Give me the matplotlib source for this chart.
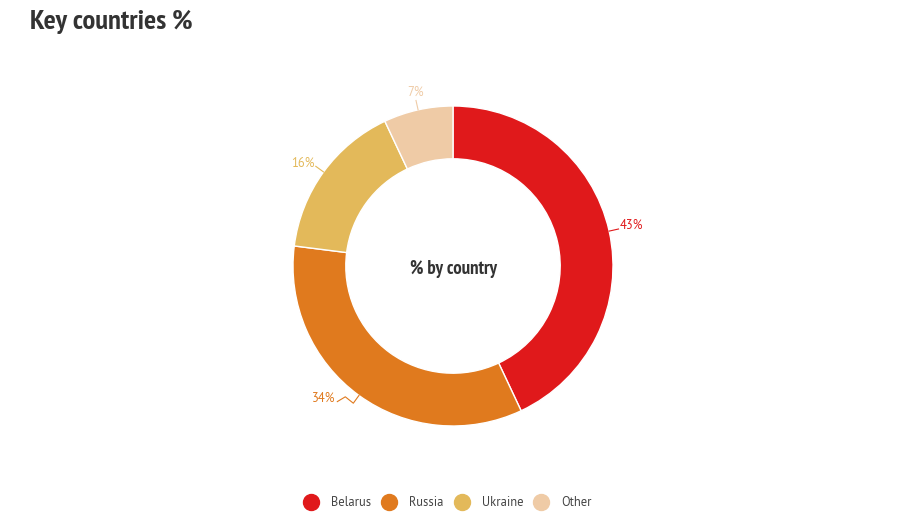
import numpy as np
import matplotlib.pyplot as plt
from matplotlib.lines import Line2D

countries = ["Belarus", "Russia", "Ukraine", "Other"]
shares = [43, 34, 16, 7]
colors = ["#E0191B", "#E07A1E", "#E3B95A", "#EFCBA6"]

narrow = ["PT Sans Narrow", "DejaVu Sans"]
regular = ["PT Sans", "DejaVu Sans"]

W, H = 906, 530
fig = plt.figure(figsize=(W / 100, H / 100), dpi=100)

# donut placed in pixel terms: center (453, 266), radius 160
cx, cy, r = 453, 266, 160
ax = fig.add_axes([(cx - r) / W, (H - cy - r) / H, 2 * r / W, 2 * r / H])
wedges, _ = ax.pie(
    shares,
    colors=colors,
    startangle=90,
    counterclock=False,
    radius=1.0,
    wedgeprops=dict(width=0.33, edgecolor="white", linewidth=1),
)
ax.set_xlim(-1, 1)
ax.set_ylim(-1, 1)
ax.set_aspect("equal")
ax.axis("off")

# percentage labels with short leader lines
for w, val, col in zip(wedges, shares, colors):
    ang = np.deg2rad((w.theta1 + w.theta2) / 2)
    c, s = np.cos(ang), np.sin(ang)
    xs = [c * 1.0, c * 1.06]
    ys = [s * 1.0, s * 1.06]
    if c < 0 and s < 0:
        # lower-left label gets a small kinked leader
        xs += [xs[-1] - 0.05, xs[-1] - 0.1]
        ys += [ys[-1] + 0.04, ys[-1] + 0.01]
    ax.plot(xs, ys, color=col, lw=0.8, clip_on=False)
    if abs(c) < 0.35:
        ax.text(xs[-1], ys[-1] + 0.01, f"{val}%", color=col, fontsize=9,
                ha="center", va="bottom", family=regular)
    else:
        ax.text(xs[-1] + (0.01 if c > 0 else -0.01), ys[-1] + 0.02, f"{val}%",
                color=col, fontsize=9, ha="left" if c > 0 else "right",
                va="center", family=regular)

ax.text(0, -0.02, "% by country", ha="center", va="center", fontsize=13.5,
        fontweight="bold", color="#333333", family=narrow)

fig.text(30 / W, 1 - 22 / H, "Key countries %", ha="left", va="center",
         fontsize=20.5, fontweight="bold", color="#333333", family=narrow)

handles = [Line2D([], [], marker="o", ls="", markersize=11.5, markerfacecolor=col,
                  markeredgecolor=col) for col in colors]
fig.legend(handles, countries, loc="center",
           bbox_to_anchor=(0.5 - 8 / W, 1 - 503 / H),
           ncol=4, frameon=False, prop=dict(family=regular, size=9),
           handletextpad=0.6, columnspacing=0.45, labelcolor="#444444")

fig.savefig("out.png", dpi=100)
